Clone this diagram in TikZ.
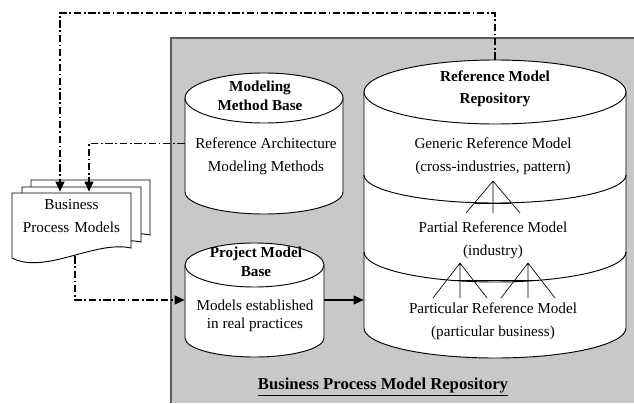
\documentclass[tikz,border=0pt]{standalone}
\usepackage{fontspec}
\setmainfont{Liberation Serif}
\definecolor{RepoGray}{RGB}{200, 200, 200}
\definecolor{RepoEdge}{RGB}{90, 90, 90}
\usetikzlibrary{arrows.meta, positioning, fit, calc}
\tikzset{
  cyl/.style={draw=black, fill=white, line width=0.7pt},
  doc/.style={draw=black, fill=white, line width=0.7pt},
  area/.style={inner sep=0pt, fit={#1}},
  ttl/.style={font=\fontsize{11.4}{14}\selectfont\bfseries, align=center, inner sep=0pt},
  txt/.style={font=\fontsize{11.4}{17}\selectfont, align=center, inner sep=0pt},
  flow/.style={-{Triangle[length=7.5pt, width=6.5pt]}, line width=1.4pt,
               dash pattern=on 5.5pt off 2pt on 1.3pt off 2pt},
  arr/.style={-{Triangle[length=7.5pt, width=6.5pt]}, line width=1.3pt},
  tree/.style={line width=0.5pt},
}
\begin{document}
\begin{tikzpicture}[x=0.75pt, y=-0.75pt]
  \useasboundingbox (0,0) rectangle (634,403);
  \fill[RepoGray] (171,38) rectangle (634,403);
  \draw[RepoEdge, line width=0.8pt] (171,403) |- (634,38);

  \filldraw[cyl] (185,98) -- (185,192) arc[start angle=180, end angle=0, x radius=79, y radius=22] -- (343,98) -- cycle;
  \filldraw[cyl] (264,98) ellipse[x radius=79, y radius=25];
  \node[area={(185,73) (343,214)}] (mmb) {};

  \filldraw[cyl] (185,265) -- (185,338) arc[start angle=180, end angle=0, x radius=69.5, y radius=19] -- (324,265) -- cycle;
  \filldraw[cyl] (254.5,265) ellipse[x radius=69.5, y radius=22];
  \node[area={(185,243) (324,357)}] (pmb) {};

  \filldraw[cyl] (364,92) -- (364,328) arc[start angle=180, end angle=0, x radius=131, y radius=30] -- (626,92) -- cycle;
  \filldraw[cyl] (495,92) ellipse[x radius=131, y radius=32];
  \draw[cyl, fill=none] (364,175) arc[start angle=180, end angle=0, x radius=131, y radius=28];
  \draw[cyl, fill=none] (364,252) arc[start angle=180, end angle=0, x radius=131, y radius=30];
  \node[area={(364,60) (626,358)}] (rmr) {};

  \foreach \ax/\ay/\len in {493/181/32, 460/263/35, 528/263/35}
    \draw[tree] (\ax,\ay) -- ++(-27,\len) (\ax,\ay) -- ++(0,\len) (\ax,\ay) -- ++(27,\len);
  \draw[line width=0.7pt] (475,203) -- (511,203) (453,280) -- (537,280);

  \foreach \dx/\dy in {19/-13, 10/-6, 0/0}
    \filldraw[doc, shift={(\dx,\dy)}] (12,193) -- (131,193) -- (131,248)
      .. controls (95,240) and (45,275) .. (12,258) -- cycle;
  \node[area={(12,192) (131,250)}, txt] (bpm) {Business\\Process Models};

  \node[ttl, font=\fontsize{11.4}{16.5}\selectfont\bfseries] (rmrt) at (495,89) {Reference Model\\Repository};
  \node[txt] (gen) at (493,156) {Generic Reference Model\\(cross-industries, pattern)};
  \node[txt] (part) at (493,240) {Partial Reference Model\\(industry)};
  \node[txt] (prt) at (493,321) {Particular Reference Model\\(particular business)};
  \node[ttl] (mmbt) at (260,96) {Modeling\\Method Base};
  \node[txt] (mmbx) at (266,156) {Reference Architecture\\Modeling Methods};
  \node[ttl] (pmbt) at (256,262) {Project Model\\Base};
  \node[txt, font=\fontsize{11.4}{13.5}\selectfont] (pmbx) at (255,316) {Models established\\in real practices};
  \node[font=\fontsize{12.5}{15}\selectfont\bfseries, inner sep=0pt] (lbl) at (383,387) {\underline{Business Process Model Repository}};

  \draw[flow] (rmr.north) -- ++(0,-47) -| ($(bpm.north)+(-11.5,0)$);
  \draw[flow] (mmb.west) -| ($(bpm.north)+(17.5,0)$);
  \draw[flow] ($(bpm.south)+(3.5,6)$) |- (pmb.west);
  \draw[arr] (pmb.east) -- (pmb.east -| rmr.west);
\end{tikzpicture}
\end{document}
